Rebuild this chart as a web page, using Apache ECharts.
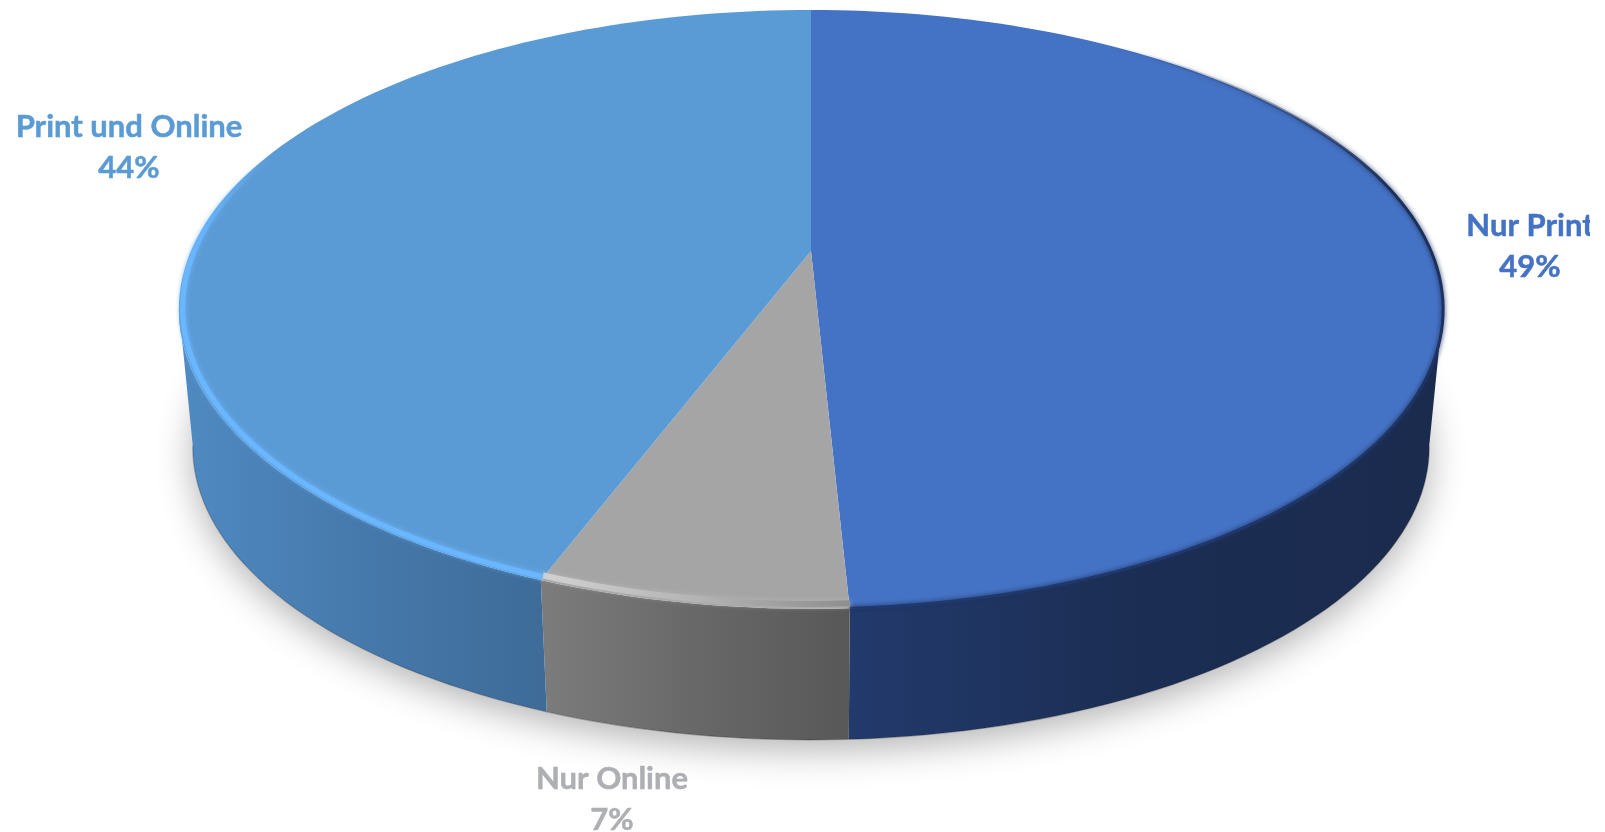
<!DOCTYPE html>
<html>

<head>
  <meta charset="utf-8">
  <style>
    html, body {
      margin: 0;
      padding: 0;
      background: #fff;
      overflow: hidden;
    }
  </style>
</head>

<body>
  <div id="main" style="width: 1605px; height: 832px"></div>
</body>

<script src="https://cdn.jsdelivr.net/npm/echarts@6/dist/echarts.min.js"></script>
<script>
  var categories = ['Nur Print', 'Nur Online', 'Print und Online'];
  var shares = [49.2, 6.6, 44.2];

  var topColors = ['#4472c4', '#a5a5a5', '#5b9bd5'];
  var labelColors = ['#4472c4', '#adafb3', '#5b9bd5'];
  var wallColors = [['#223a6c', '#1b2d52', '#1a2b4e'], ['#7c7c7c', '#686868', '#585858'], ['#4f8ac2', '#4679ab', '#3e6b98']];
  var rimColors = [['rgba(28,45,88,0)', '#1c2f5a', '#20396e'], ['#d2d2d2', '#b4b4b4', '#8e8e8e'], ['rgba(106,182,255,0)', '#6ab6ff', '#6ab6ff']];
  var rimVertical = [true, false, true];
  var rimRanges = [[35, 180], [0, 360], [0, 290]];
  var rimInsets = [[1, 0], [0.992, -2], [0.994, -1.5]];
  var rimWidths = [3, 6, 5];
  var labelCenters = [[1530, 226], [612, 779], [129, 127]];

  // projected disc: tilt moves the pie centre above the middle of the ellipse
  var cx = 811, cy = 251, radX = 620, radY = 288, tilt = 0.195;
  var depth = 139, bottomScale = 0.978;
  var nearFrom = 101, nearTo = 259;

  function project(deg, scale, dy) {
    var a = deg * Math.PI / 180;
    var w = 1 + tilt * Math.cos(a);
    return [
      cx + scale * radX * Math.sin(a) / w,
      cy + dy + scale * radY * -Math.cos(a) / w
    ];
  }

  function arc(from, to, scale, dy) {
    var pts = [];
    var n = Math.max(2, Math.ceil(Math.abs(to - from) / 1.5));
    for (var i = 0; i <= n; i++) {
      pts.push(project(from + (to - from) * i / n, scale, dy));
    }
    return pts;
  }

  function sliceRange(idx) {
    var total = shares.reduce(function (s, v) { return s + v; }, 0);
    var before = 0;
    for (var i = 0; i < idx; i++) before += shares[i];
    return [before / total * 360, (before + shares[idx]) / total * 360];
  }

  function gradient(colors, vertical) {
    return new echarts.graphic.LinearGradient(0, 0, vertical ? 0 : 1, vertical ? 1 : 0, [
      { offset: 0, color: colors[0] },
      { offset: vertical ? 0.25 : 0.5, color: colors[1] },
      { offset: 1, color: colors[2] }
    ]);
  }

  function renderShadow(params) {
    if (params.dataIndex !== 0) return;
    return {
      type: 'polygon',
      shape: { points: arc(0, 360, bottomScale, depth) },
      style: {
        fill: '#fff',
        shadowColor: 'rgba(0,0,0,0.3)',
        shadowBlur: 36,
        shadowOffsetY: 10
      }
    };
  }

  function renderWall(params, api) {
    var r = sliceRange(params.dataIndex);
    var from = Math.max(r[0], nearFrom);
    var to = Math.min(r[1], nearTo);
    if (to <= from) return;
    var edge = arc(from, to, bottomScale, depth);
    return {
      type: 'group',
      children: [{
        type: 'polygon',
        shape: { points: arc(from, to, 1, 0).concat(edge.slice().reverse()) },
        style: { fill: gradient(wallColors[params.dataIndex]) }
      }, {
        type: 'polyline',
        shape: { points: edge },
        style: { fill: 'none', stroke: 'rgba(30,30,40,0.3)', lineWidth: 1.2 }
      }]
    };
  }

  function renderTop(params, api) {
    var r = sliceRange(params.dataIndex);
    return {
      type: 'polygon',
      shape: { points: [[cx, cy]].concat(arc(r[0], r[1], 1, 0)) },
      style: { fill: topColors[params.dataIndex] }
    };
  }

  function renderRim(params, api) {
    var i = params.dataIndex;
    var r = sliceRange(i);
    var from = Math.max(r[0], rimRanges[i][0]);
    var to = Math.min(r[1], rimRanges[i][1]);
    return {
      type: 'polyline',
      shape: { points: arc(from, to, rimInsets[i][0], rimInsets[i][1]) },
      style: {
        fill: 'none',
        stroke: gradient(rimColors[i], rimVertical[i]),
        lineWidth: rimWidths[i],
        lineCap: 'butt',
        shadowColor: rimColors[i][1],
        shadowBlur: 5
      }
    };
  }

  function renderLabel(params, api) {
    var i = params.dataIndex;
    var pos = labelCenters[i];
    var style = {
      fill: labelColors[i],
      stroke: labelColors[i],
      lineWidth: 0.5,
      font: 'bold 31px Lato, "Open Sans", sans-serif',
      align: 'center',
      verticalAlign: 'middle'
    };
    return {
      type: 'group',
      // the reference cuts the end of "Nur Print" just before the right edge
      clipPath: { type: 'rect', shape: { x: 0, y: 0, width: 1590, height: 832 } },
      children: [{
        type: 'text',
        x: pos[0],
        y: pos[1],
        style: Object.assign({ text: categories[i] }, style)
      }, {
        type: 'text',
        x: pos[0],
        y: pos[1] + 41,
        style: Object.assign({ text: Math.round(api.value(0)) + '%' }, style)
      }]
    };
  }

  function layer(render) {
    return {
      type: 'custom',
      coordinateSystem: 'none',
      silent: true,
      animation: false,
      clip: false,
      renderItem: render,
      data: shares
    };
  }

  var myChart = echarts.init(document.getElementById('main'));
  myChart.setOption({
    backgroundColor: '#fff',
    animation: false,
    tooltip: { show: false },
    series: [
      layer(renderShadow),
      layer(renderWall),
      layer(renderTop),
      layer(renderRim),
      layer(renderLabel)
    ]
  });
</script>
</html>
